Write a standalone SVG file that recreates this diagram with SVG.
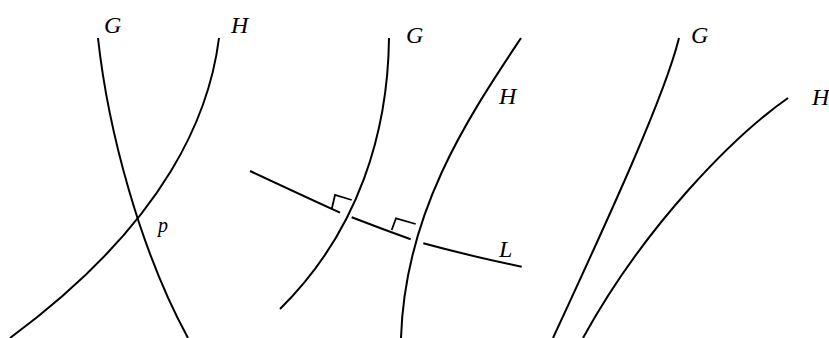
<svg xmlns="http://www.w3.org/2000/svg" width="829" height="338" viewBox="0 0 829 338">
<style>
.c{fill:none;stroke:#000;stroke-width:2;stroke-linecap:butt}
.m{fill:none;stroke:#000;stroke-width:1.8}
.t{font-family:"Liberation Serif","DejaVu Serif",serif;font-style:italic;font-size:24px;fill:#000}
</style>
<rect width="829" height="338" fill="#fff"/>
<g id="connectors">
<path class="c" d="M98,38 C108,130 140,250 188,338"/>
<path class="c" d="M219,38 C210,110 170,220 10,338"/>
<path class="c" d="M389,38 C388,130 360,230 280,309"/>
<path class="c" d="M521,38 C470,115 405,210 401,338"/>
<path class="c" d="M250,171 Q297,193 340,212.7"/>
<path class="c" d="M351.7,217.3 Q382,229 410.7,239.3"/>
<path class="c" d="M423.3,243.3 Q470,256 521.7,266.7"/>
<path class="m" d="M331.7,209.3 L335,195 L351.7,200"/>
<path class="m" d="M391.7,230 L396,218.3 L415.7,224"/>
<path class="c" d="M679,38 C665,95 610,215 553,338"/>
<path class="c" d="M788,98 C735,135 645,225 583,338"/>
</g>
<g id="labels">
<text class="t" x="104" y="33">G</text>
<text class="t" x="231" y="33">H</text>
<text class="t" x="158" y="232" style="font-size:20px">p</text>
<text class="t" x="406" y="43">G</text>
<text class="t" x="499" y="104">H</text>
<text class="t" x="499" y="257">L</text>
<text class="t" x="691" y="43">G</text>
<text class="t" x="812" y="105">H</text>
</g>
</svg>
